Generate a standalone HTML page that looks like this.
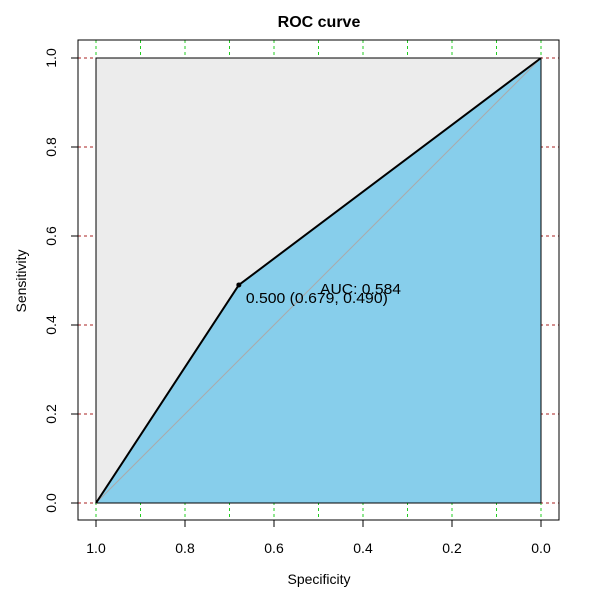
<!DOCTYPE html>
<html><head><meta charset="utf-8"><style>body{margin:0;background:#fff}svg{display:block}</style></head>
<body>
<svg width="600" height="600" font-family="Liberation Sans, sans-serif" id="c">
<text x="319" y="27" text-anchor="middle" font-weight="bold" font-size="16">ROC curve</text>
<text x="319" y="584" text-anchor="middle" font-size="14">Specificity</text>
<text transform="translate(26,281) rotate(-90)" text-anchor="middle" font-size="14">Sensitivity</text>
<g id="grid"></g>
<g id="marks"></g>
<rect x="78" y="40" width="481" height="480" fill="none" stroke="#000"/>
<g id="axes"></g>
</svg>
<script>
const rocSpec=[1.0,0.679,0.0];
const rocSens=[0.0,0.490,1.0];
const xTicks=[1.0,0.8,0.6,0.4,0.2,0.0];
const yTicks=[0.0,0.2,0.4,0.6,0.8,1.0];
const xGrid=[1.0,0.9,0.8,0.7,0.6,0.5,0.4,0.3,0.2,0.1,0.0];
const aucText="AUC: 0.584";
const thrText="0.500 (0.679, 0.490)";
const X=s=>96+(1-s)*445, Y=v=>503-v*445;
const NS="http://www.w3.org/2000/svg";
function mk(t,a,p){const e=document.createElementNS(NS,t);for(const k in a)e.setAttribute(k,a[k]);p.appendChild(e);return e;}
const g=document.getElementById('grid'),m=document.getElementById('marks'),ax=document.getElementById('axes');
xGrid.forEach(s=>{const l=mk('line',{x1:X(s),x2:X(s),y1:40,y2:520,stroke:'#22cc22','stroke-dasharray':'3,3'},g);

});
yTicks.forEach(v=>{const l=mk('line',{x1:78,x2:559,y1:Y(v),y2:Y(v),stroke:'#aa2222','stroke-dasharray':'3,3'},g);

});
const bg=mk('rect',{x:X(1),y:Y(1),width:X(0)-X(1),height:Y(0)-Y(1),fill:'#ececec',stroke:'#000'},m);


let pts=rocSpec.map((s,i)=>X(s)+','+Y(rocSens[i]));
const area=mk('polygon',{points:pts.join(' ')+' '+X(0)+','+Y(0),fill:'#87ceeb',stroke:'#000'},m);


const diag=mk('line',{x1:X(1),y1:Y(0),x2:X(0),y2:Y(1),stroke:'#aaa','stroke-width':1},m);


const curve=mk('polyline',{points:pts.join(' '),fill:'none',stroke:'#000','stroke-width':2},m);


const pt=mk('circle',{cx:X(rocSpec[1]),cy:Y(rocSens[1]),r:2.5,fill:'#000'},m);


const t1=mk('text',{x:320,y:294,'font-size':15,textLength:81,lengthAdjust:'spacingAndGlyphs'},m);t1.textContent=aucText;


const t2=mk('text',{x:X(rocSpec[1])+7,y:303,'font-size':15,textLength:142,lengthAdjust:'spacingAndGlyphs'},m);t2.textContent=thrText;


xTicks.forEach(s=>{mk('line',{x1:X(s),x2:X(s),y1:520,y2:527,stroke:'#000'},ax);
const t=mk('text',{x:X(s),y:553,'text-anchor':'middle','font-size':14},ax);t.textContent=s.toFixed(1);

});
yTicks.forEach(v=>{mk('line',{x1:71,x2:78,y1:Y(v),y2:Y(v),stroke:'#000'},ax);
const t=mk('text',{transform:`translate(56,${Y(v)}) rotate(-90)`,'text-anchor':'middle','font-size':14},ax);t.textContent=v.toFixed(1);

});
</script>
</body></html>
